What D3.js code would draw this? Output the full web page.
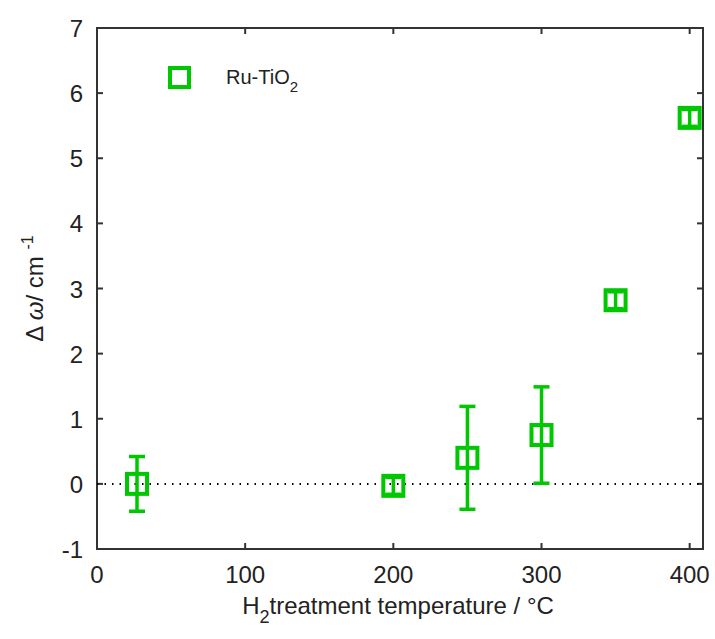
<!DOCTYPE html>
<html>
<head>
<meta charset="utf-8">
<script src="https://cdn.jsdelivr.net/npm/d3@7"></script>
<style>
  body { margin: 0; background: #fff; }
  text { font-family: "Liberation Sans", Arial, sans-serif; fill: #222; }
</style>
</head>
<body>
<div id="chart"></div>
<script>
// data
const temps = [27, 200, 250, 300, 350, 400];
const shifts = [0.0, -0.03, 0.40, 0.75, 2.82, 5.62];
const errs = [0.42, 0.13, 0.79, 0.74, 0.13, 0.13];
const xTicks = [0, 100, 200, 300, 400];
const yTicks = [-1, 0, 1, 2, 3, 4, 5, 6, 7];
const seriesName = 'Ru-TiO';

const width = 715, height = 639;
const m = { left: 97, right: 12, top: 28, bottom: 90 };
const green = '#00c800';
const axisColor = '#333';

const svg = d3.select('#chart').append('svg')
  .attr('width', width)
  .attr('height', height);

const x = d3.scaleLinear().domain([0, 409]).range([m.left, width - m.right]);
const y = d3.scaleLinear().domain([-1, 7]).range([height - m.bottom, m.top]);

// box frame
svg.append('rect')
  .attr('x', x(0)).attr('y', y(7))
  .attr('width', x(409) - x(0)).attr('height', y(-1) - y(7))
  .attr('fill', 'none').attr('stroke', axisColor).attr('stroke-width', 2);

const tl = 6;
// inward ticks on all four sides
const gx = svg.append('g');
xTicks.forEach(t => {
  gx.append('line').attr('x1', x(t)).attr('x2', x(t)).attr('y1', y(-1)).attr('y2', y(-1) - tl)
    .attr('stroke', axisColor).attr('stroke-width', 2);
  gx.append('line').attr('x1', x(t)).attr('x2', x(t)).attr('y1', y(7)).attr('y2', y(7) + tl)
    .attr('stroke', axisColor).attr('stroke-width', 2);
  gx.append('text').attr('x', x(t)).attr('y', y(-1) + 34)
    .attr('text-anchor', 'middle').style('font-size', '24px').text(t);
});
const gy = svg.append('g');
yTicks.forEach(t => {
  gy.append('line').attr('x1', x(0)).attr('x2', x(0) + tl).attr('y1', y(t)).attr('y2', y(t))
    .attr('stroke', axisColor).attr('stroke-width', 2);
  gy.append('line').attr('x1', x(409)).attr('x2', x(409) - tl).attr('y1', y(t)).attr('y2', y(t))
    .attr('stroke', axisColor).attr('stroke-width', 2);
  gy.append('text').attr('x', x(0) - 14).attr('y', y(t) + 9)
    .attr('text-anchor', 'end').style('font-size', '24px').text(t);
});

// dotted zero line
svg.append('line')
  .attr('x1', x(0)).attr('x2', x(409)).attr('y1', y(0)).attr('y2', y(0))
  .attr('stroke', '#000').attr('stroke-width', 2)
  .attr('stroke-dasharray', '1.5,6');

// error bars + markers
const pts = temps.map((t, i) => ({ t, v: shifts[i], e: errs[i] }));
const cap = 8;
const g = svg.append('g').attr('stroke', green).attr('stroke-width', 3.5).attr('fill', 'none');
pts.forEach(d => {
  const cx = x(d.t);
  g.append('line').attr('x1', cx).attr('x2', cx).attr('y1', y(d.v - d.e)).attr('y2', y(d.v + d.e));
  g.append('line').attr('x1', cx - cap).attr('x2', cx + cap).attr('y1', y(d.v + d.e)).attr('y2', y(d.v + d.e));
  g.append('line').attr('x1', cx - cap).attr('x2', cx + cap).attr('y1', y(d.v - d.e)).attr('y2', y(d.v - d.e));
  g.append('rect').attr('x', cx - 10).attr('y', y(d.v) - 10).attr('width', 20).attr('height', 20)
    .attr('stroke-width', 4);
});

// legend
svg.append('rect').attr('x', 170).attr('y', 68).attr('width', 19).attr('height', 19)
  .attr('fill', 'none').attr('stroke', green).attr('stroke-width', 4);
const lt = svg.append('text').attr('x', 226).attr('y', 84).style('font-size', '20px');
lt.append('tspan').text(seriesName);
lt.append('tspan').attr('dy', 8).style('font-size', '15px').text('2');

// axis titles
const xl = svg.append('text').attr('x', 398).attr('y', 614)
  .attr('text-anchor', 'middle').style('font-size', '24px');
xl.append('tspan').text('H');
xl.append('tspan').attr('dy', 9).style('font-size', '18px').text('2');
xl.append('tspan').attr('dy', -9).text('treatment temperature / °C');

const yl = svg.append('text')
  .attr('transform', `translate(43,${y(3)}) rotate(-90)`)
  .attr('text-anchor', 'middle').style('font-size', '24px');
yl.append('tspan').text('Δ ');
yl.append('tspan').style('font-style', 'italic').text('ω');
yl.append('tspan').text('/ cm ');
yl.append('tspan').attr('dy', -10).style('font-size', '16px').text('-1');
</script>
</body>
</html>
